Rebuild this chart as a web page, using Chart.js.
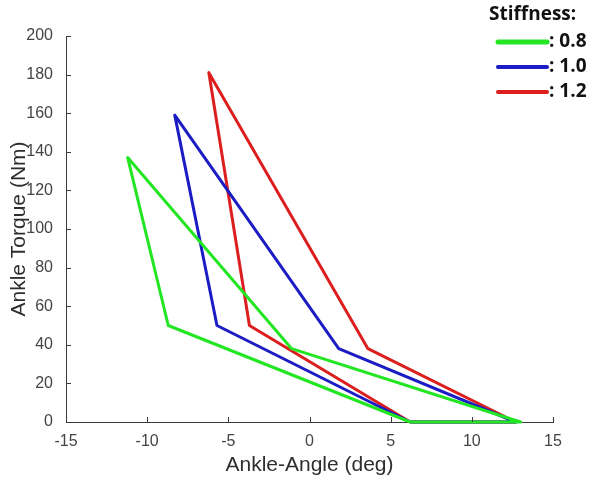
<!DOCTYPE HTML>
<html>

<head>
    <title>Ankle Torque vs Angle</title>
    <meta charset="utf-8">
    <script src="https://cdn.jsdelivr.net/npm/chart.js@4/dist/chart.umd.min.js"></script>
    <style>
        html, body {
            margin: 0;
            padding: 0;
            background: #fff;
        }

        .wrap {
            position: relative;
            width: 597px;
            height: 479px;
        }
    </style>
</head>

<body>
    <section class="wrap">
        <canvas id="loop-chart" width=597 height=479></canvas>
    </section>

    <script>
        /* stiffness levels, one loop each */
        var stiffness = ['0.8', '1.0', '1.2'];
        var lineColors = ['#22e622', '#1c1cc4', '#dc1e1e'];

        /* loop corners: heel strike -> toe off -> knee -> peak -> knee -> back */
        var angle08 = [6.2, 13.0, -1.1, -11.2, -8.7, 6.2];
        var torque08 = [0, 0, 38, 137, 50, 0];

        var angle10 = [6.2, 12.7, 1.8, -8.3, -5.7, 6.2];
        var torque10 = [0, 0, 38, 159, 50, 0];

        var angle12 = [6.2, 12.7, 3.6, -6.2, -3.7, 6.2];
        var torque12 = [0, 0, 38, 181, 50, 0];

        var xTicks = [-15, -10, -5, 0, 5, 10, 15];
        var yTicks = [0, 20, 40, 60, 80, 100, 120, 140, 160, 180, 200];

        function toPoints(xs, ys) {
            var pts = [];
            for (var i = 0; i < xs.length; i++) {
                pts.push({ x: xs[i], y: ys[i] });
            }
            return pts;
        }

        var loops = [
            toPoints(angle08, torque08),
            toPoints(angle10, torque10),
            toPoints(angle12, torque12)
        ];

        // matlab style ticks, pointing into the plot
        var inwardTicks = {
            id: 'inwardTicks',
            afterDraw: function (chart) {
                var ctx = chart.ctx;
                var area = chart.chartArea;
                var xs = chart.scales.x, ys = chart.scales.y;
                ctx.save();
                ctx.strokeStyle = '#3a3a3a';
                ctx.lineWidth = 1;
                ctx.beginPath();
                xTicks.forEach(function (v) {
                    var px = Math.round(xs.getPixelForValue(v)) + 0.5;
                    ctx.moveTo(px, area.bottom);
                    ctx.lineTo(px, area.bottom - 5);
                });
                yTicks.forEach(function (v) {
                    var py = Math.round(ys.getPixelForValue(v)) + 0.5;
                    ctx.moveTo(area.left, py);
                    ctx.lineTo(area.left + 5, py);
                });
                ctx.stroke();
                ctx.restore();
            }
        };

        // legend box in the top right corner
        var stiffLegend = {
            id: 'stiffLegend',
            afterDraw: function (chart) {
                var ctx = chart.ctx;
                ctx.save();
                ctx.fillStyle = '#111';
                ctx.font = 'bold 19px "Open Sans"';
                ctx.textBaseline = 'middle';
                ctx.textAlign = 'left';
                ctx.fillText('Stiffness:', 489, 15);

                chart.data.datasets.forEach(function (ds, i) {
                    var y = 42 + i * 25;
                    ctx.strokeStyle = ds.borderColor;
                    ctx.lineWidth = i === 0 ? 5 : 4;
                    ctx.lineCap = 'round';
                    ctx.beginPath();
                    ctx.moveTo(498, y);
                    ctx.lineTo(547, y);
                    ctx.stroke();
                    ctx.fillText(': ' + ds.label, 549, y);
                });
                ctx.restore();
            }
        };

        var datasets = loops.map(function (pts, i) {
            return {
                label: stiffness[i],
                data: pts,
                showLine: true,
                borderColor: lineColors[i],
                backgroundColor: lineColors[i],
                borderWidth: 3,
                borderJoinStyle: 'round',
                pointRadius: 0,
                tension: 0,
                clip: false
            };
        });

        var tickFont = { family: '"Liberation Sans", Arial', size: 16 };
        var titleFont = { family: '"Liberation Sans", Arial', size: 21 };

        new Chart(document.getElementById('loop-chart'), {
            type: 'scatter',
            data: { datasets: datasets },
            options: {
                responsive: false,
                animation: false,
                layout: { padding: { top: 36, right: 44, left: 0, bottom: 0 } },
                plugins: {
                    legend: { display: false },
                    tooltip: { enabled: false }
                },
                scales: {
                    x: {
                        type: 'linear',
                        min: -15,
                        max: 15,
                        afterBuildTicks: function (s) {
                            s.ticks = xTicks.map(function (v) { return { value: v }; });
                        },
                        afterFit: function (s) { s.height = 57; },
                        grid: { display: false },
                        border: { display: true, color: '#3a3a3a', width: 1 },
                        ticks: { color: '#444', font: tickFont, padding: 2, maxRotation: 0 },
                        title: {
                            display: true,
                            text: 'Ankle-Angle (deg)',
                            color: '#2e2e2e',
                            font: titleFont,
                            padding: { top: 0, bottom: 1 }
                        }
                    },
                    y: {
                        type: 'linear',
                        min: 0,
                        max: 200,
                        afterBuildTicks: function (s) {
                            s.ticks = yTicks.map(function (v) { return { value: v }; });
                        },
                        afterFit: function (s) { s.width = 66; },
                        grid: { display: false },
                        border: { display: true, color: '#3a3a3a', width: 1 },
                        ticks: { color: '#444', font: tickFont, padding: 5 },
                        title: {
                            display: true,
                            text: 'Ankle Torque (Nm)',
                            color: '#2e2e2e',
                            font: titleFont,
                            padding: { top: 7, bottom: 0 }
                        }
                    }
                }
            },
            plugins: [inwardTicks, stiffLegend]
        });
    </script>
</body>

</html>
